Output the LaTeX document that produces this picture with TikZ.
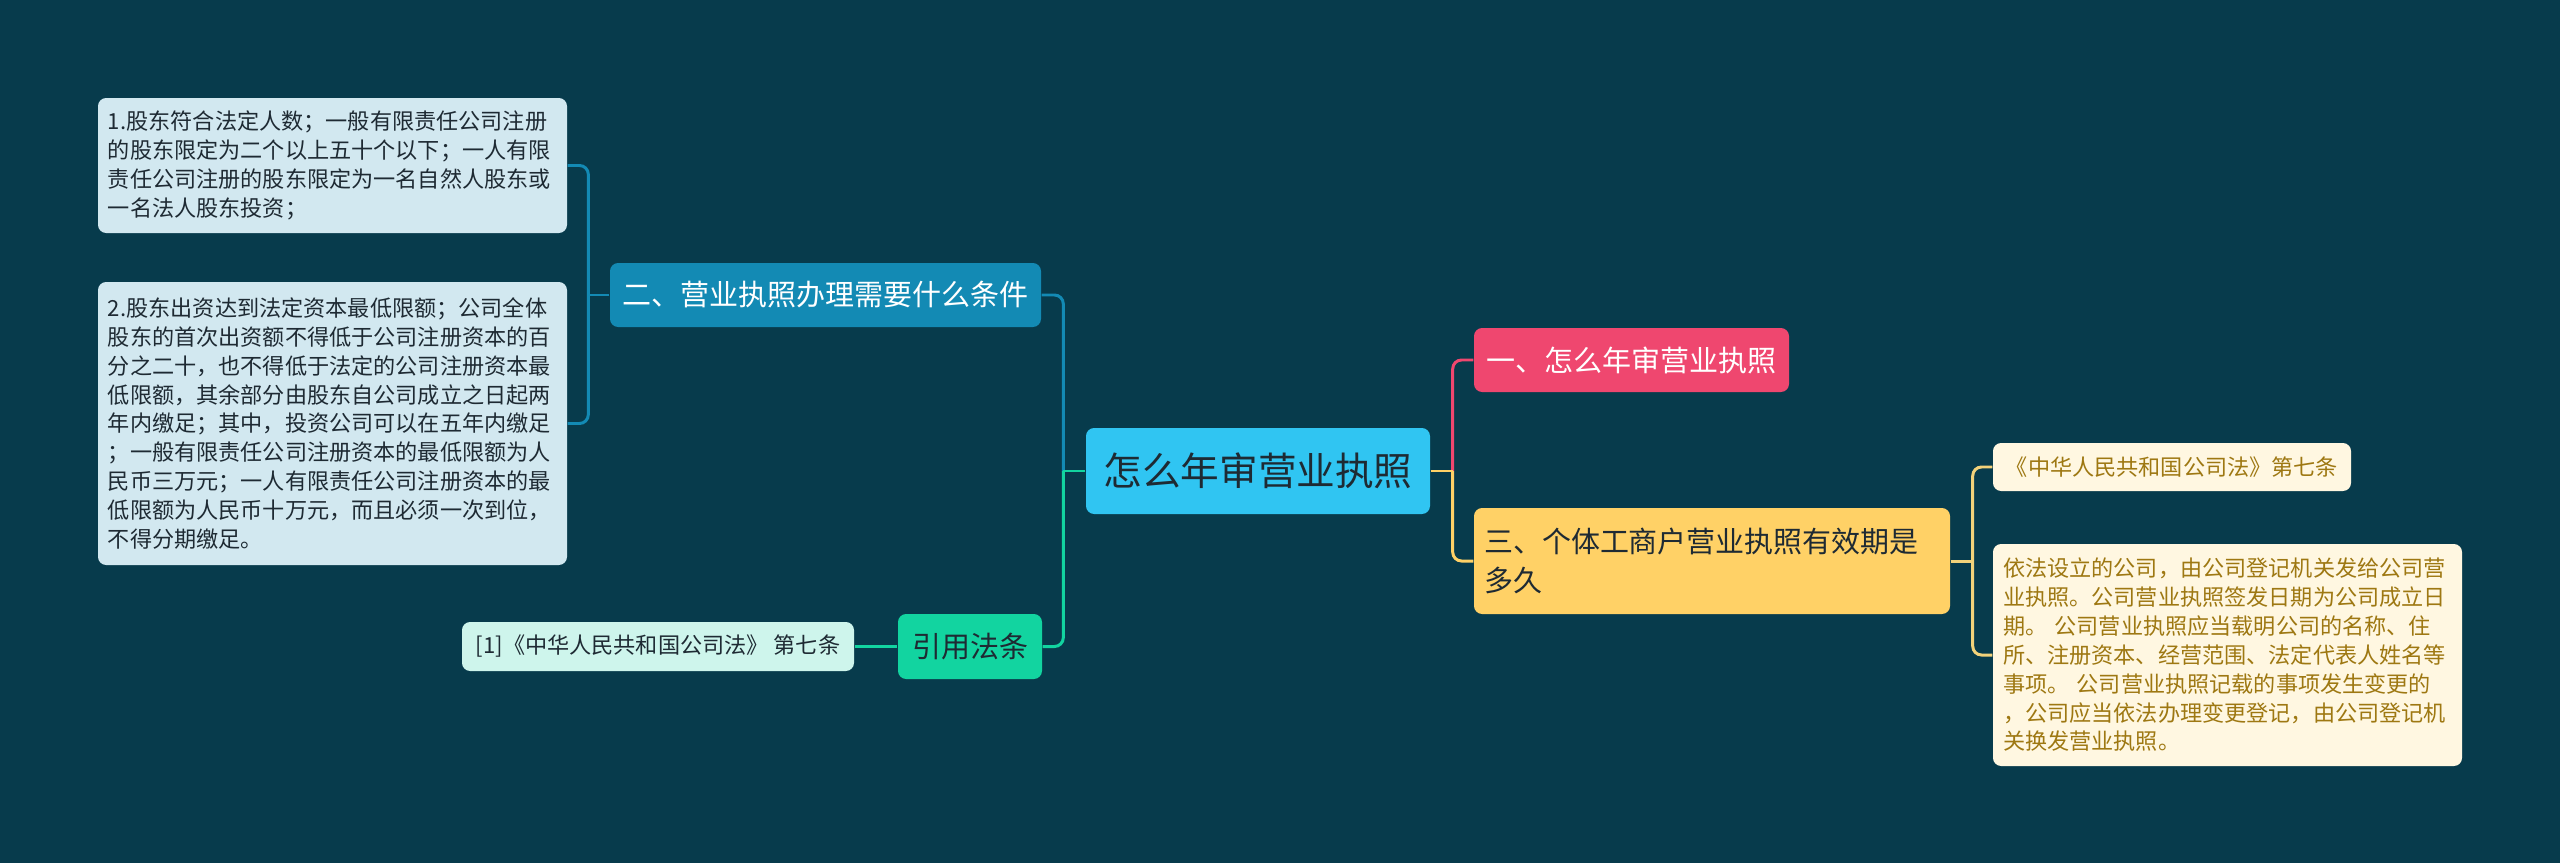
\documentclass[tikz,border=0pt]{standalone}
\usepackage{fontspec}
\setmainfont{Noto Sans CJK SC}
\definecolor{bgteal}{HTML}{073B4C}
\definecolor{rootblue}{HTML}{30C5F2}
\definecolor{cpink}{HTML}{EF476F}
\definecolor{cyellow}{HTML}{FFD166}
\definecolor{cgreen}{HTML}{12D4A0}
\definecolor{cblue}{HTML}{138AB4}
\definecolor{leafblue}{HTML}{D2E8F0}
\definecolor{leafmint}{HTML}{CEF5EC}
\definecolor{cream}{HTML}{FFF7E1}
\definecolor{creamink}{HTML}{9E7812}
\definecolor{creamline}{HTML}{F2D27A}
\definecolor{inkdark}{HTML}{1E2A33}

\begin{document}
\begin{tikzpicture}[
  font=\fontsize{6.3}{8.2}\selectfont,
  box/.style={rounded corners=2.3pt, inner xsep=1mm, inner ysep=0.8mm, align=left},
  topic/.style={box, align=center, font=\fontsize{8.25}{11.1}\selectfont, minimum height=0.64cm},
  leaf/.style={box, text width=4.49cm, fill=leafblue, text=inkdark},
  link/.style={line width=0.85pt, rounded corners=2.5pt}
]
\fill[bgteal] (0,0) rectangle (25.6,-8.63);

\node[box, align=center, fill=rootblue, text=inkdark, font=\fontsize{11}{13}\selectfont,
      minimum width=3.44cm, minimum height=0.86cm] (root) at (12.58,-4.71) {怎么年审营业执照};
\node[topic, fill=cpink, text=white, minimum width=3.15cm] (one) at (16.315,-3.60) {一、怎么年审营业执照};
\node[topic, align=left, fill=cyellow, text=inkdark, text width=4.56cm, minimum height=1.06cm]
      (three) at (17.12,-5.61) {三、个体工商户营业执照有效期是\\多久};
\node[box, align=center, fill=cream, text=creamink, minimum width=3.58cm, minimum height=0.48cm]
      (law) at (21.72,-4.67) {《中华人民共和国公司法》第七条};
\node[box, fill=cream, text=creamink, text width=4.49cm, minimum height=2.22cm] (lawtxt) at (22.275,-6.55) {%
依法设立的公司，由公司登记机关发给公司营\\
业执照。公司营业执照签发日期为公司成立日\\
期。 公司营业执照应当载明公司的名称、住\\
所、注册资本、经营范围、法定代表人姓名等\\
事项。 公司营业执照记载的事项发生变更的\\
，公司应当依法办理变更登记，由公司登记机\\
关换发营业执照。};
\node[topic, fill=cblue, text=white, minimum width=4.31cm] (two) at (8.255,-2.95) {二、营业执照办理需要什么条件};
\node[leaf, minimum height=1.35cm] (c1) at (3.325,-1.655) {%
1.股东符合法定人数；一般有限责任公司注册\\
的股东限定为二个以上五十个以下；一人有限\\
责任公司注册的股东限定为一名自然人股东或\\
一名法人股东投资；};
\node[leaf, minimum height=2.83cm] (c2) at (3.325,-4.235) {%
2.股东出资达到法定资本最低限额；公司全体\\
股东的首次出资额不得低于公司注册资本的百\\
分之二十，也不得低于法定的公司注册资本最\\
低限额，其余部分由股东自公司成立之日起两\\
年内缴足；其中，投资公司可以在五年内缴足\\
；一般有限责任公司注册资本的最低限额为人\\
民币三万元；一人有限责任公司注册资本的最\\
低限额为人民币十万元，而且必须一次到位，\\
不得分期缴足。};
\node[topic, fill=cgreen, text=inkdark, minimum width=1.44cm, minimum height=0.65cm] (cite) at (9.70,-6.465) {引用法条};
\node[box, align=center, fill=leafmint, text=inkdark, minimum width=3.92cm, minimum height=0.49cm]
      (ref) at (6.58,-6.465) {[1]《中华人民共和国公司法》 第七条};

\coordinate (jl) at ([xshift=-2.2mm]root.west);
\coordinate (jr) at ([xshift=2.2mm]root.east);
\coordinate (jt) at ([xshift=-2.1mm]two.west);
\coordinate (jy) at ([xshift=2.2mm]three.east);

\draw[link, draw=cblue] (jl) |- (two.east);
\draw[link, draw=cgreen] (jl) |- (cite.east);
\draw[link, draw=cgreen] (root.west) -- (jl);
\draw[link, draw=cpink] (jr) |- (one.west);
\draw[link, draw=cyellow] (jr) |- (three.west);
\draw[link, draw=cyellow] (root.east) -- (jr);
\draw[link, draw=cblue] (jt) |- (c1.east);
\draw[link, draw=cblue] (jt) |- (c2.east);
\draw[link, draw=cblue] (two.west) -- (jt);
\draw[link, draw=creamline] (jy) |- (law.west);
\draw[link, draw=creamline] (jy) |- (lawtxt.west);
\draw[link, draw=creamline] (three.east) -- (jy);
\draw[link, draw=cgreen] (cite.west) -- (ref.east);
\end{tikzpicture}
\end{document}
